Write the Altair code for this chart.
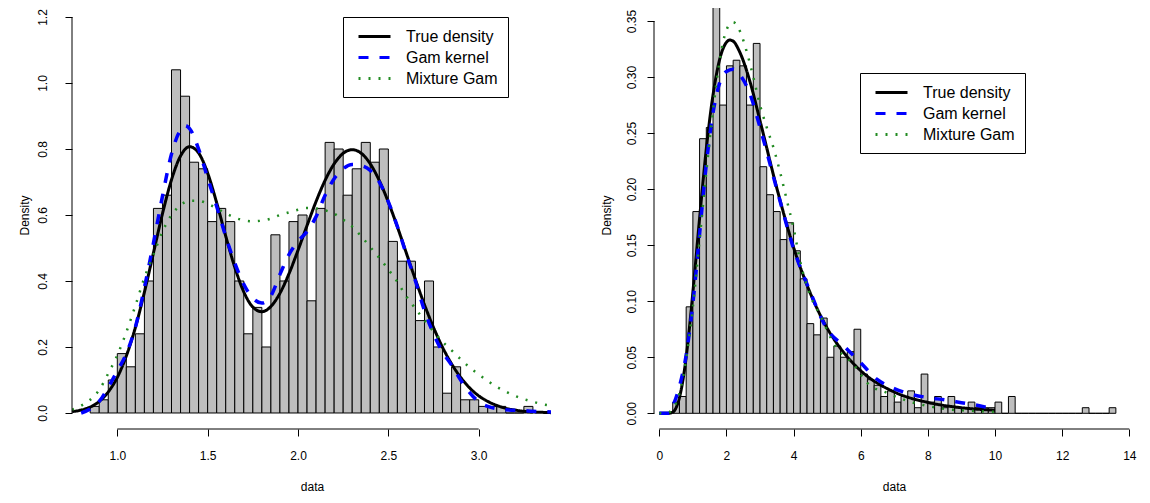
import altair as alt
import pandas as pd

FONT = "Liberation Sans"
SERIES = ["True density", "Gam kernel", "Mixture Gam"]
COLORS = ["#000000", "#0000FF", "#228B22"]
DASHES = [[1, 0], [10, 11], [2, 8]]
WIDTHS = [3.0, 3.5, 2.5]

PLOT_W = 480
PLOT_H = 421

# ---------------- left panel (bimodal) ----------------
L_BIN_W = 0.05
L_BIN_LO = [0.85, 0.90, 0.95, 1.00, 1.05, 1.10, 1.15, 1.20, 1.25, 1.30,
            1.35, 1.40, 1.45, 1.50, 1.55, 1.60, 1.65, 1.70, 1.75, 1.80,
            1.85, 1.90, 1.95, 2.00, 2.05, 2.10, 2.15, 2.20, 2.25, 2.30,
            2.35, 2.40, 2.45, 2.50, 2.55, 2.60, 2.65, 2.70, 2.75, 2.80,
            2.85, 2.90, 2.95, 3.00, 3.05, 3.10, 3.15, 3.20, 3.25]
L_DENS = [0.02, 0.04, 0.10, 0.18, 0.14, 0.24, 0.40, 0.62, 0.66, 1.04,
          0.96, 0.76, 0.74, 0.58, 0.62, 0.58, 0.40, 0.24, 0.32, 0.20,
          0.54, 0.40, 0.58, 0.60, 0.34, 0.62, 0.82, 0.80, 0.66, 0.74,
          0.82, 0.76, 0.80, 0.52, 0.46, 0.46, 0.28, 0.40, 0.20, 0.06,
          0.14, 0.04, 0.04, 0.02, 0.02, 0.02, 0.0, 0.0, 0.02]

L_GRID_X = [0.75, 0.80, 0.85, 0.90, 0.95, 1.00, 1.05, 1.10, 1.15, 1.20,
            1.25, 1.30, 1.35, 1.40, 1.45, 1.50, 1.55, 1.60, 1.65, 1.70,
            1.75, 1.80, 1.85, 1.90, 1.95, 2.00, 2.05, 2.10, 2.15, 2.20,
            2.25, 2.30, 2.35, 2.40, 2.45, 2.50, 2.55, 2.60, 2.65, 2.70,
            2.75, 2.80, 2.85, 2.90, 2.95, 3.00, 3.05, 3.10, 3.15, 3.20,
            3.25, 3.30, 3.35, 3.40]
L_TRUE_Y = [0.004, 0.009, 0.018, 0.035, 0.064, 0.108, 0.173, 0.259, 0.366, 0.485,
            0.604, 0.707, 0.779, 0.807, 0.788, 0.727, 0.637, 0.536, 0.442, 0.367,
            0.321, 0.307, 0.323, 0.363, 0.422, 0.493, 0.568, 0.641, 0.705, 0.755,
            0.787, 0.798, 0.787, 0.755, 0.704, 0.639, 0.564, 0.484, 0.404, 0.328,
            0.259, 0.199, 0.149, 0.108, 0.076, 0.052, 0.035, 0.023, 0.014, 0.009,
            0.005, 0.003, 0.002, 0.001]
L_GAM_X = [0.80, 0.85, 0.90, 0.95, 1.00, 1.05, 1.10, 1.15, 1.20, 1.25,
           1.30, 1.35, 1.375, 1.40, 1.45, 1.50, 1.55, 1.60, 1.65, 1.70,
           1.75, 1.80, 1.85, 1.90, 1.95, 2.00, 2.05, 2.10, 2.15, 2.20,
           2.25, 2.30, 2.35, 2.40, 2.45, 2.50, 2.55, 2.60, 2.65, 2.70,
           2.75, 2.80, 2.85, 2.90, 2.95, 3.00, 3.05, 3.10, 3.15, 3.20,
           3.25, 3.30, 3.35, 3.40]
L_GAM_Y = [0.0, 0.012, 0.035, 0.078, 0.128, 0.18, 0.26, 0.38, 0.515, 0.657,
           0.785, 0.858, 0.871, 0.862, 0.80, 0.712, 0.626, 0.535, 0.455, 0.39,
           0.348, 0.333, 0.355, 0.42, 0.48, 0.52, 0.55, 0.595, 0.66, 0.71,
           0.74, 0.753, 0.75, 0.735, 0.70, 0.64, 0.565, 0.48, 0.40, 0.31,
           0.24, 0.185, 0.145, 0.10, 0.062, 0.034, 0.02, 0.013, 0.01, 0.008,
           0.007, 0.005, 0.004, 0.003]
L_MIX_Y = [0.01, 0.022, 0.04, 0.07, 0.12, 0.175, 0.245, 0.325, 0.41, 0.48,
           0.55, 0.60, 0.63, 0.643, 0.643, 0.634, 0.62, 0.605, 0.592, 0.584,
           0.581, 0.583, 0.589, 0.60, 0.608, 0.616, 0.621, 0.62, 0.614, 0.604,
           0.586, 0.565, 0.535, 0.503, 0.47, 0.435, 0.397, 0.353, 0.316, 0.281,
           0.247, 0.216, 0.19, 0.163, 0.138, 0.117, 0.097, 0.079, 0.065, 0.052,
           0.042, 0.034, 0.027, 0.022]
L_XTICKS = [1.0, 1.5, 2.0, 2.5, 3.0]
L_YTICKS = [0.0, 0.2, 0.4, 0.6, 0.8, 1.0, 1.2]
L_XDOM = [0.7493, 3.4056]
L_YDOM = [-0.0485, 1.2273]

# ---------------- right panel (skewed) ----------------
R_BIN_W = 0.2
R_BIN_LO = [0.4, 0.6, 0.8, 1.0, 1.2, 1.4, 1.6, 1.8, 2.0, 2.2,
            2.4, 2.6, 2.8, 3.0, 3.2, 3.4, 3.6, 3.8, 4.0, 4.2,
            4.4, 4.6, 4.8, 5.0, 5.2, 5.4, 5.6, 5.8, 6.0, 6.2,
            6.4, 6.6, 6.8, 7.0, 7.2, 7.4, 7.6, 7.8, 8.0, 8.2,
            8.4, 8.6, 8.8, 9.0, 9.2, 9.4, 9.6, 9.8, 10.0, 10.2,
            10.4, 10.6, 10.8, 11.0, 11.2, 11.4, 11.6, 11.8, 12.0, 12.2,
            12.4, 12.6, 12.8, 13.0, 13.2, 13.4]
R_DENS = [0.01, 0.015, 0.095, 0.18, 0.245, 0.255, 0.38, 0.275, 0.31, 0.315,
          0.31, 0.275, 0.33, 0.22, 0.195, 0.18, 0.155, 0.17, 0.145, 0.12,
          0.08, 0.07, 0.085, 0.05, 0.06, 0.05, 0.055, 0.075, 0.035, 0.03,
          0.025, 0.015, 0.02, 0.01, 0.015, 0.02, 0.005, 0.035, 0.01, 0.015,
          0.005, 0.015, 0.005, 0.005, 0.01, 0.005, 0.005, 0.005, 0.01, 0.0,
          0.015, 0.0, 0.0, 0.0, 0.0, 0.0, 0.0, 0.0, 0.0, 0.0,
          0.0, 0.005, 0.0, 0.0, 0.0, 0.005]
R_TRUE_X = [0.0, 0.25, 0.4, 0.5, 0.6, 0.7, 0.8, 0.9, 1.0, 1.2, 1.4, 1.6, 1.8,
            2.0, 2.1, 2.2, 2.4, 2.7, 3.0, 3.5, 4.0, 4.5, 5.0, 5.5, 6.0,
            7.0, 8.0, 9.0, 10.0]
R_TRUE_Y = [0.0, 0.0, 0.001, 0.005, 0.014, 0.029, 0.050, 0.077, 0.108, 0.174,
            0.236, 0.284, 0.316, 0.331, 0.333, 0.332, 0.322, 0.296, 0.261, 0.201,
            0.148, 0.107, 0.076, 0.054, 0.038, 0.019, 0.0097, 0.005, 0.0027]
R_GAM_X = [0.0, 0.3, 0.45, 0.6, 0.8, 1.0, 1.2, 1.4, 1.6, 1.8, 2.0, 2.2, 2.4,
           2.7, 3.0, 3.5, 4.0, 4.5, 5.0, 5.5, 6.0, 6.5, 7.0, 7.5, 8.0, 8.5,
           9.0, 9.5, 9.8]
R_GAM_Y = [0.0, 0.0, 0.01, 0.024, 0.052, 0.098, 0.16, 0.222, 0.268, 0.295,
           0.305, 0.307, 0.302, 0.285, 0.255, 0.2, 0.147, 0.108, 0.075, 0.06,
           0.045, 0.03, 0.022, 0.017, 0.014, 0.012, 0.0095, 0.007, 0.005]
R_MIX_X = [0.0, 0.2, 0.4, 0.6, 0.8, 1.0, 1.2, 1.4, 1.6, 1.8, 2.0, 2.2, 2.4,
           2.6, 2.8, 3.0, 3.2, 3.4, 3.6, 3.8, 4.0, 4.2, 4.5, 4.8, 5.2, 5.8,
           6.2, 6.8, 7.4, 8.0, 8.6, 9.2, 9.8, 10.0]
R_MIX_Y = [0.0, 0.0, 0.004, 0.018, 0.048, 0.095, 0.155, 0.215, 0.27, 0.315,
           0.342, 0.349, 0.341, 0.323, 0.30, 0.275, 0.255, 0.237, 0.215, 0.19,
           0.165, 0.135, 0.105, 0.087, 0.062, 0.043, 0.027, 0.018, 0.011, 0.0065,
           0.0035, 0.0024, 0.0015, 0.0013]
R_XTICKS = [0, 2, 4, 6, 8, 10, 12, 14]
R_YTICKS = [0.0, 0.05, 0.10, 0.15, 0.20, 0.25, 0.30, 0.35]
R_XDOM = [-0.158, 14.14]
R_YDOM = [-0.0140, 0.3616]

# legend line sample: custom path (unit coords), drawn 32px long
LEG_SYMBOL = "M-0.5,0H3.5"


def make_panel(bin_lo, bin_w, dens, curves, xdom, ydom, xticks, yticks,
               xfmt, yfmt, ylab_pad, ytitle_x, leg_x, leg_y):
    bars_df = pd.DataFrame({
        "lo": bin_lo,
        "hi": [round(v + bin_w, 4) for v in bin_lo],
        "h": dens,
        "base": [0.0] * len(bin_lo),
    })
    xs = alt.Scale(domain=xdom, nice=False, zero=False)
    ys = alt.Scale(domain=ydom, nice=False, zero=False)
    xaxis = alt.Axis(values=xticks, format=xfmt, title="data", domain=False,
                     grid=False, tickSize=7, tickColor="black", tickWidth=1,
                     labelFont=FONT, labelFontSize=12, labelColor="black",
                     labelPadding=23, labelBaseline="alphabetic",
                     labelFlush=False, labelOverlap=False,
                     titleFont=FONT, titleFontSize=12, titleFontWeight="normal",
                     titleColor="black", titleX=PLOT_W / 2, titleY=61,
                     titleBaseline="alphabetic", titleAlign="center")
    yaxis = alt.Axis(values=yticks, format=yfmt, title="Density", domain=False,
                     grid=False, tickSize=7, tickColor="black", tickWidth=1,
                     labelFont=FONT, labelFontSize=12, labelColor="black",
                     labelAngle=270, labelAlign="center",
                     labelBaseline="alphabetic", labelPadding=ylab_pad,
                     labelOverlap=False, labelFlush=False,
                     titleFont=FONT, titleFontSize=12, titleFontWeight="normal",
                     titleColor="black", titleAngle=270, titleX=ytitle_x,
                     titleY=207, titleBaseline="alphabetic", titleAlign="center")
    bars = alt.Chart(bars_df).mark_rect(
        fill="#BEBEBE", stroke="black", strokeWidth=1, clip=True
    ).encode(
        x=alt.X("lo:Q", scale=xs, axis=xaxis),
        x2="hi:Q",
        y=alt.Y("h:Q", scale=ys, axis=yaxis),
        y2="base:Q",
    )
    leg = alt.Legend(title=None, orient="none", legendX=leg_x, legendY=leg_y,
                     direction="vertical", fillColor="white",
                     strokeColor="black", padding=10, cornerRadius=0,
                     symbolType=LEG_SYMBOL, symbolSize=256,
                     symbolStrokeWidth=3, labelFont=FONT, labelFontSize=16,
                     labelColor="black", labelOffset=34, rowPadding=3,
                     labelLimit=0)
    layers = [bars]
    for name, (cx, cy), w in zip(SERIES, curves, WIDTHS):
        df = pd.DataFrame({"x": cx, "y": cy, "series": [name] * len(cx)})
        layers.append(
            alt.Chart(df).mark_line(strokeWidth=w, interpolate="monotone",
                                    clip=True).encode(
                x=alt.X("x:Q", scale=xs, axis=xaxis),
                y=alt.Y("y:Q", scale=ys, axis=yaxis),
                color=alt.Color("series:N",
                                scale=alt.Scale(domain=SERIES, range=COLORS),
                                legend=leg),
                strokeDash=alt.StrokeDash("series:N",
                                          scale=alt.Scale(domain=SERIES, range=DASHES),
                                          legend=leg),
            )
        )
    xr = pd.DataFrame({"a": [xticks[0]], "b": [xticks[-1]]})
    layers.append(alt.Chart(xr).mark_rule(color="black", strokeWidth=1).encode(
        x=alt.X("a:Q", scale=xs, axis=xaxis), x2="b:Q", y=alt.value(PLOT_H)))
    yr = pd.DataFrame({"a": [yticks[0]], "b": [yticks[-1]]})
    layers.append(alt.Chart(yr).mark_rule(color="black", strokeWidth=1).encode(
        y=alt.Y("a:Q", scale=ys, axis=yaxis), y2="b:Q", x=alt.value(0)))
    return alt.layer(*layers).properties(width=PLOT_W, height=PLOT_H)


left = make_panel(L_BIN_LO, L_BIN_W, L_DENS,
                  [(L_GRID_X, L_TRUE_Y), (L_GAM_X, L_GAM_Y), (L_GRID_X, L_MIX_Y)],
                  L_XDOM, L_YDOM, L_XTICKS, L_YTICKS, ".1f", ".1f",
                  19, -44, 271, 9)
right = make_panel(R_BIN_LO, R_BIN_W, R_DENS,
                   [(R_TRUE_X, R_TRUE_Y), (R_GAM_X, R_GAM_Y), (R_MIX_X, R_MIX_Y)],
                   R_XDOM, R_YDOM, R_XTICKS, R_YTICKS, "d", ".2f",
                   12, -44, 206, 65)

chart = alt.hconcat(left, right, spacing=102, bounds="flush").resolve_scale(
    x="independent", y="independent", color="independent",
    strokeDash="independent"
).resolve_legend(
    color="independent", strokeDash="independent"
).properties(
    padding={"left": 10, "top": 0, "right": 5, "bottom": 0},
    background="white",
).configure_view(stroke=None)

chart.save("out.html", embed_options={"renderer": "svg", "actions": False})
